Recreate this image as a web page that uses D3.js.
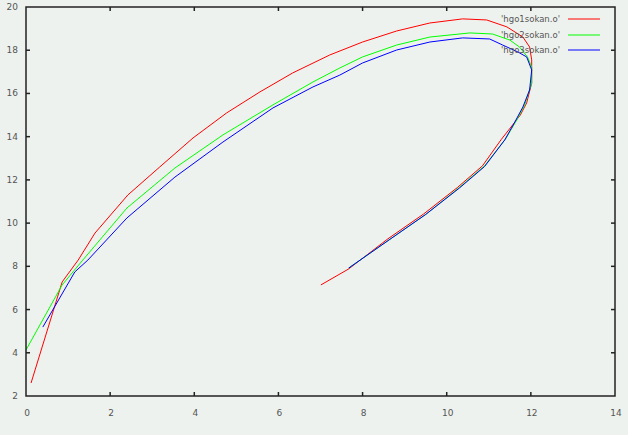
<!DOCTYPE html>
<html>
<head>
<meta charset="utf-8">
<script src="https://cdn.jsdelivr.net/npm/d3@7/dist/d3.min.js"></script>
<style>
html,body{margin:0;padding:0;background:#eef2ee;}
svg{display:block;}
</style>
</head>
<body>
<svg id="chart" width="628" height="435"></svg>
<script>
const seriesNames = ["'hgo1sokan.o'", "'hgo2sokan.o'", "'hgo3sokan.o'"];
const seriesColors = ["#ff0000", "#00ff00", "#0000ff"];
const xTicks = [0, 2, 4, 6, 8, 10, 12, 14];
const yTicks = [2, 4, 6, 8, 10, 12, 14, 16, 18, 20];

const hgo1 = [
  [0.12,2.60],[0.86,7.28],[1.24,8.29],[1.64,9.54],[2.42,11.30],[3.18,12.60],[3.97,13.94],
  [4.77,15.10],[5.56,16.07],[6.34,16.95],[7.22,17.78],[8.00,18.38],[8.81,18.89],
  [9.60,19.26],[10.38,19.45],[10.95,19.40],[11.43,19.08],[11.81,18.61],[11.97,18.15],
  [12.02,17.55],[12.02,16.48],[11.90,15.56],[11.75,15.00],[11.55,14.50],[11.30,13.88],
  [10.85,12.65],[10.25,11.64],[9.45,10.42],[8.60,9.27],[7.67,7.88],[7.01,7.14]
];
const hgo2 = [
  [0.00,4.13],[0.86,7.14],[1.35,8.29],[2.40,10.70],[3.54,12.55],[4.68,14.08],[5.87,15.47],
  [6.82,16.53],[7.46,17.18],[8.00,17.69],[8.81,18.24],[9.60,18.61],[10.55,18.80],[11.09,18.75],
  [11.50,18.47],[11.73,18.15],[11.92,17.69],[12.02,17.22],[12.02,16.48],[11.85,15.45],
  [11.65,14.72],[11.40,13.90],[10.90,12.65],[10.30,11.65],[9.50,10.40],[8.65,9.25],[7.67,7.92]
];
const hgo3 = [
  [0.40,5.19],[1.16,7.74],[1.47,8.29],[2.40,10.24],[3.54,12.13],[4.68,13.75],[5.87,15.33],
  [6.82,16.30],[7.46,16.85],[8.00,17.41],[8.81,18.01],[9.60,18.38],[10.38,18.57],[11.02,18.52],
  [11.33,18.24],[11.69,17.92],[11.90,17.69],[12.02,17.09],[11.97,16.16],[11.81,15.37],
  [11.62,14.68],[11.38,13.85],[10.90,12.62],[10.30,11.62],[9.50,10.40],[8.65,9.25],[7.67,7.92]
];
const seriesData = [hgo1, hgo2, hgo3];

const svg = d3.select("#chart");
const pLeft = 26, pRight = 615, pTop = 7, pBottom = 396;

svg.append("rect").attr("x",0).attr("y",0).attr("width",628).attr("height",435).attr("fill","#eef2ee");

const x = d3.scaleLinear().domain([0, 14]).range([pLeft, pRight]);
const y = d3.scaleLinear().domain([2, 20]).range([pBottom, pTop]);

const font = "'DejaVu Sans', sans-serif";

const tickLen = 4;
const g = svg.append("g").attr("stroke","#222").attr("stroke-width",1.5);
xTicks.slice(1, -1).forEach(t => {
  g.append("line").attr("x1", x(t)).attr("x2", x(t)).attr("y1", pBottom).attr("y2", pBottom - tickLen);
  g.append("line").attr("x1", x(t)).attr("x2", x(t)).attr("y1", pTop).attr("y2", pTop + tickLen);
});
yTicks.slice(1, -1).forEach(t => {
  g.append("line").attr("x1", pLeft).attr("x2", pLeft + tickLen).attr("y1", y(t)).attr("y2", y(t));
  g.append("line").attr("x1", pRight).attr("x2", pRight - tickLen).attr("y1", y(t)).attr("y2", y(t));
});

svg.append("g").selectAll("text").data(xTicks).join("text")
  .attr("x", d => x(d) + 1).attr("y", 416)
  .attr("text-anchor","middle")
  .attr("font-family", font).attr("font-size", 9).attr("fill","#555")
  .text(d => d);
svg.append("g").selectAll("text").data(yTicks).join("text")
  .attr("x", 18).attr("y", d => y(d) + 3)
  .attr("text-anchor","end")
  .attr("font-family", font).attr("font-size", 9).attr("fill","#555")
  .text(d => d);

const line = d3.line().x(d => x(d[0])).y(d => y(d[1]));
seriesData.forEach((s, i) => {
  svg.append("path").attr("d", line(s)).attr("fill","none")
    .attr("stroke", seriesColors[i]).attr("stroke-width", 1);
});

const legendY = [19, 35, 50];
seriesNames.forEach((n, i) => {
  svg.append("text").attr("x", 560).attr("y", legendY[i] + 3)
    .attr("text-anchor","end").attr("font-family", font).attr("font-size", 8.5)
    .attr("fill","#555").text(n);
  svg.append("line").attr("x1", 568).attr("x2", 600)
    .attr("y1", legendY[i]).attr("y2", legendY[i])
    .attr("stroke", seriesColors[i]).attr("stroke-width", 1);
});

svg.append("rect").attr("x", pLeft).attr("y", pTop)
  .attr("width", pRight - pLeft).attr("height", pBottom - pTop)
  .attr("fill","none").attr("stroke","#222").attr("stroke-width",1.5);
</script>
</body>
</html>
